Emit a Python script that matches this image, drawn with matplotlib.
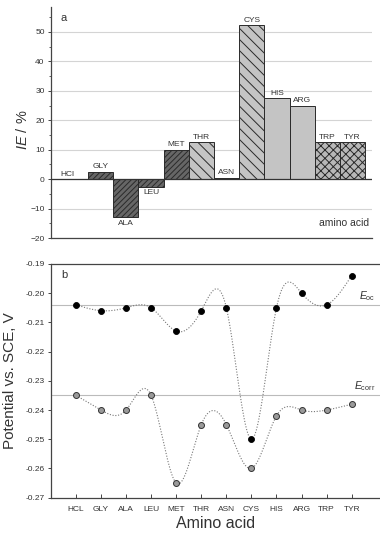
# -*- coding: utf-8 -*-
# Inhibition efficiency (a) and potentials (b) per amino acid

import numpy as np
import matplotlib
matplotlib.use("Agg")
import matplotlib.pyplot as plt

plt.rcParams['font.family'] = 'Liberation Sans'
plt.rcParams['mathtext.fontset'] = 'custom'
plt.rcParams['mathtext.rm'] = 'Liberation Sans'
plt.rcParams['mathtext.it'] = 'Liberation Sans:italic'
plt.rcParams['hatch.linewidth'] = 0.7
plt.rcParams['axes.linewidth'] = 0.9

# data
acids = ["HCL", "GLY", "ALA", "LEU", "MET", "THR", "ASN", "CYS", "HIS", "ARG", "TRP", "TYR"]
bar_labels = ["HCl", "GLY", "ALA", "LEU", "MET", "THR", "ASN", "CYS", "HIS", "ARG", "TRP", "TYR"]
ie = [0, 2.5, -12.7, -2.5, 10, 12.5, 0.5, 52.3, 27.5, 25, 12.5, 12.5]
e_oc = [-0.204, -0.206, -0.205, -0.205, -0.213, -0.206, -0.205, -0.250, -0.205, -0.200, -0.204, -0.194]
e_corr = [-0.235, -0.240, -0.240, -0.235, -0.265, -0.245, -0.245, -0.260, -0.242, -0.240, -0.240, -0.238]

# bar styles (face, hatch)
dark = ("#666666", "//////")
light_h = ("#c4c4c4", "\\\\\\")
plain = ("#c4c4c4", "")
cross = ("#b8b8b8", "xxxx")
styles = [plain, dark, dark, dark, dark, light_h, plain, light_h, plain, plain, cross, cross]

txt = "#333333"
spine = "#444444"


def natural_spline(x, y, n=400):
    # natural cubic spline through the points, like Origin's spline connector
    x = np.asarray(x, float)
    y = np.asarray(y, float)
    k = len(x)
    h = np.diff(x)
    A = np.zeros((k, k))
    r = np.zeros(k)
    A[0, 0] = A[-1, -1] = 1
    for i in range(1, k - 1):
        A[i, i - 1] = h[i - 1]
        A[i, i] = 2 * (h[i - 1] + h[i])
        A[i, i + 1] = h[i]
        r[i] = 3 * ((y[i + 1] - y[i]) / h[i] - (y[i] - y[i - 1]) / h[i - 1])
    c = np.linalg.solve(A, r)
    xs = np.linspace(x[0], x[-1], n)
    idx = np.clip(np.searchsorted(x, xs) - 1, 0, k - 2)
    dx = xs - x[idx]
    b = (y[1:] - y[:-1]) / h - h * (2 * c[:-1] + c[1:]) / 3
    d = (c[1:] - c[:-1]) / (3 * h)
    ys = y[idx] + b[idx] * dx + c[idx] * dx ** 2 + d[idx] * dx ** 3
    return xs, ys


fig = plt.figure(figsize=(3.8, 5.35), dpi=100)

### panel a ###
ax1 = fig.add_axes([0.134, 0.555, 0.845, 0.432])
x = np.arange(len(acids))
for i, v in enumerate(ie):
    if v == 0:
        continue
    fc, ht = styles[i]
    ax1.bar(x[i], v, width=1.0, facecolor=fc, edgecolor="#2a2a2a", hatch=ht, linewidth=0.7, zorder=3)

for i, v in enumerate(ie):
    dx = -0.3 if i == 0 else 0
    if v < 0:
        ax1.text(x[i] + dx, v - 1.0, bar_labels[i], ha="center", va="top", fontsize=6, color=txt)
    else:
        ax1.text(x[i] + dx, v + 0.5, bar_labels[i], ha="center", va="bottom", fontsize=6, color=txt)

ax1.axhline(0, color="#333333", lw=0.9, zorder=4)
ax1.set_xlim(-0.97, 11.77)
ax1.set_ylim(-20, 58.5)
ax1.set_yticks(range(-20, 51, 10))
ax1.set_yticks(range(-15, 56, 10), minor=True)
ax1.set_xticks([])
ax1.grid(axis="y", color="#d4d4d4", lw=0.8, zorder=0)
for s in ["top", "right"]:
    ax1.spines[s].set_visible(False)
for s in ["left", "bottom"]:
    ax1.spines[s].set_color(spine)
ax1.tick_params(axis="y", direction="out", length=2.5, width=0.7, colors=spine, labelsize=6, pad=2, labelcolor=txt)
ax1.tick_params(axis="y", which="minor", length=1.5, width=0.6, colors=spine)
ax1.set_ylabel(r"$IE$ / %", fontsize=10.5, color=txt)
ax1.yaxis.set_label_coords(-0.065, 0.467)
ax1.text(0.03, 0.975, "a", transform=ax1.transAxes, fontsize=8, color=txt, va="top")
ax1.text(0.99, 0.065, "amino acid", transform=ax1.transAxes, fontsize=7.5, color=txt, ha="right", va="center")

### panel b ###
ax2 = fig.add_axes([0.134, 0.0697, 0.866, 0.437])
ax2.axhline(e_oc[0], color="#bbbbbb", lw=0.8, zorder=1)
ax2.axhline(e_corr[0], color="#bbbbbb", lw=0.8, zorder=1)

xs, ys = natural_spline(x, e_oc)
ax2.plot(xs, ys, ls=(0, (1, 1.5)), color="#777777", lw=0.8, zorder=2)
xs, ys = natural_spline(x, e_corr)
ax2.plot(xs, ys, ls=(0, (1, 1.5)), color="#777777", lw=0.8, zorder=2)

ax2.plot(x, e_oc, "o", ms=4.3, mfc="black", mec="black", mew=0.6, ls="none", zorder=3)
ax2.plot(x, e_corr, "o", ms=4.3, mfc="#9a9a9a", mec="#333333", mew=0.7, ls="none", zorder=3)

ax2.text(11.95, e_oc[0] + 0.0007, r"$E_{\rm oc}$", fontsize=7.5, color=txt, ha="right", va="bottom")
ax2.text(11.95, e_corr[0] + 0.0007, r"$E_{\rm corr}$", fontsize=7.5, color=txt, ha="right", va="bottom")

ax2.set_xlim(-1.0, 12.13)
ax2.set_ylim(-0.27, -0.19)
ax2.set_yticks(np.round(np.arange(-0.27, -0.185, 0.01), 2))
ax2.yaxis.set_major_formatter(plt.FormatStrFormatter("%.2f"))
ax2.set_xticks(x)
ax2.set_xticklabels(acids)
ax2.spines["right"].set_visible(False)
for s in ["left", "bottom", "top"]:
    ax2.spines[s].set_color(spine)
ax2.tick_params(axis="y", direction="out", length=2.5, width=0.7, colors=spine, labelsize=6, pad=2, labelcolor=txt)
ax2.tick_params(axis="x", direction="in", length=3, width=0.7, colors=spine, labelsize=6, pad=6, labelcolor=txt)
ax2.set_ylabel("Potential vs. SCE, V", fontsize=11, color=txt)
ax2.yaxis.set_label_coords(-0.103, 0.5)
ax2.set_xlabel("Amino acid", fontsize=11.5, color=txt, labelpad=2)
ax2.text(0.03, 0.975, "b", transform=ax2.transAxes, fontsize=8, color=txt, va="top")

fig.savefig("out.png", dpi=100)
